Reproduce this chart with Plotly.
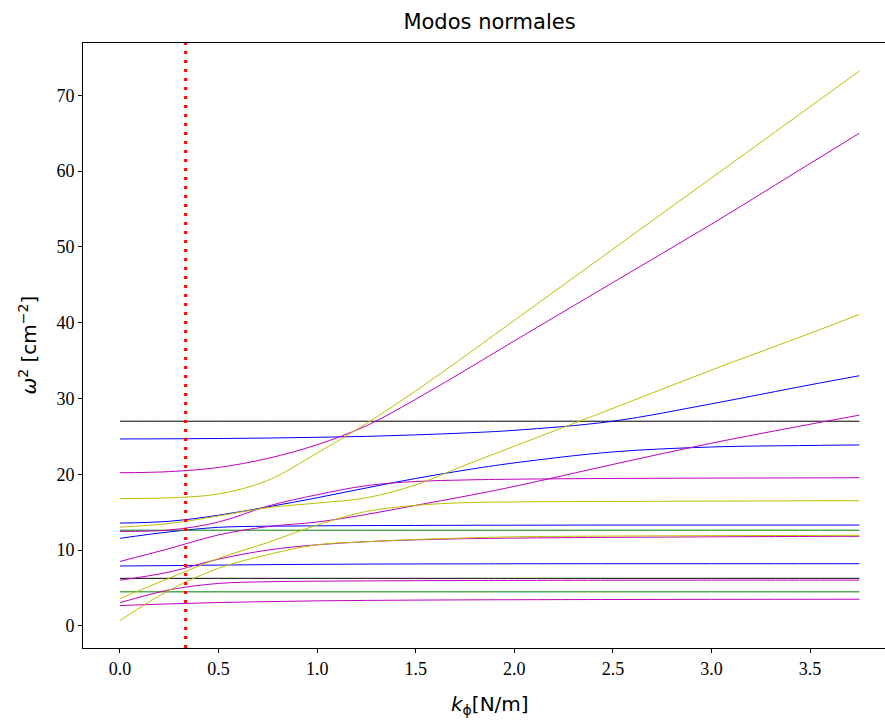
import plotly.graph_objects as go

# x grid (k_phi in N/m)
k_phi = [0.0, 0.25, 0.5, 0.75, 1.0, 1.25, 1.5, 1.75, 2.0, 2.5, 3.0, 3.5, 3.75]

# black modes
k_a = [27.0, 27.0, 27.0, 27.0, 27.0, 27.0, 27.0, 27.0, 27.0, 27.0, 27.0, 27.0, 27.0]
k_b = [6.27, 6.27, 6.27, 6.27, 6.27, 6.27, 6.27, 6.27, 6.27, 6.27, 6.27, 6.27, 6.27]
# green modes
g_a = [12.62, 12.62, 12.62, 12.62, 12.62, 12.62, 12.62, 12.62, 12.62, 12.62, 12.62, 12.62, 12.62]
g_b = [4.49, 4.49, 4.49, 4.49, 4.49, 4.49, 4.49, 4.49, 4.49, 4.49, 4.49, 4.49, 4.49]
# blue modes
b_1 = [24.66, 24.68, 24.72, 24.78, 24.88, 25.0, 25.2, 25.45, 25.8, 27.0, 29.3, 31.8, 33.0]
b_2 = [13.56, 13.8, 14.6, 15.7, 16.9, 18.2, 19.45, 20.55, 21.5, 22.95, 23.6, 23.8, 23.87]
b_3 = [11.55, 12.4, 13.0, 13.15, 13.2, 13.23, 13.25, 13.27, 13.28, 13.3, 13.3, 13.3, 13.3]
b_4 = [7.9, 7.95, 8.02, 8.08, 8.12, 8.15, 8.17, 8.18, 8.19, 8.2, 8.2, 8.2, 8.2]
# magenta modes
m_1 = [2.68, 2.9, 3.08, 3.2, 3.3, 3.36, 3.4, 3.43, 3.45, 3.48, 3.5, 3.51, 3.52]
m_2 = [3.05, 4.75, 5.6, 5.82, 5.9, 5.93, 5.96, 5.98, 6.0, 6.02, 6.03, 6.03, 6.03]
m_3 = [6.03, 7.1, 8.8, 10.0, 10.7, 11.1, 11.35, 11.5, 11.58, 11.68, 11.75, 11.8, 11.82]
m_4 = [8.5, 10.2, 12.0, 13.1, 13.7, 14.7, 15.9, 17.1, 18.4, 21.3, 24.1, 26.6, 27.8]
m_5 = [12.46, 12.65, 13.7, 15.8, 17.3, 18.5, 19.05, 19.25, 19.35, 19.45, 19.5, 19.52, 19.55]
m_6 = [20.2, 20.35, 20.9, 22.1, 23.9, 26.4, 29.9, 33.7, 37.6, 45.3, 53.0, 61.0, 65.0]
# yellow modes
y_1 = [0.7, 4.7, 7.6, 9.4, 10.7, 11.1, 11.4, 11.6, 11.75, 11.85, 11.9, 11.93, 11.95]
y_2 = [3.6, 6.3, 8.9, 11.0, 13.3, 15.1, 15.9, 16.25, 16.35, 16.42, 16.46, 16.5, 16.5]
y_3 = [13.03, 13.5, 14.5, 15.6, 16.2, 16.9, 18.6, 21.2, 23.7, 28.7, 33.75, 38.6, 41.1]
y_4 = [16.8, 16.9, 17.4, 19.2, 22.8, 26.7, 31.0, 35.6, 40.3, 49.7, 59.1, 68.5, 73.2]

k_ref = 0.333  # red dotted reference

x_ticks = [0.0, 0.5, 1.0, 1.5, 2.0, 2.5, 3.0, 3.5]
y_ticks = [0, 10, 20, 30, 40, 50, 60, 70]

series = [
    (k_a, "#000000"), (k_b, "#000000"),
    (b_1, "#0000ff"), (b_2, "#0000ff"), (b_3, "#0000ff"), (b_4, "#0000ff"),
    (g_a, "#008000"), (g_b, "#008000"),
    (m_1, "#bf00bf"), (m_2, "#bf00bf"), (m_3, "#bf00bf"),
    (m_4, "#bf00bf"), (m_5, "#bf00bf"), (m_6, "#bf00bf"),
    (y_1, "#bfbf00"), (y_2, "#bfbf00"), (y_3, "#bfbf00"), (y_4, "#bfbf00"),
]

fig = go.Figure()
for vals, col in series:
    fig.add_trace(go.Scatter(x=k_phi, y=vals, mode="lines",
                             line=dict(color=col, width=1, shape="spline", smoothing=1.0),
                             showlegend=False, hoverinfo="skip"))

fig.add_shape(type="line", xref="x", yref="paper", x0=k_ref, x1=k_ref, y0=0, y1=1,
              line=dict(color="#ff0000", width=3, dash="3px,6px"))

serif = "Liberation Serif"
sans = "DejaVu Sans"
W, H = 885, 722
ax_center_x = 489.5 / W
fig.update_layout(
    width=W, height=H,
    margin=dict(l=83, r=0, t=43, b=74),
    paper_bgcolor="white", plot_bgcolor="white",
    title=dict(text="Modos normales", x=ax_center_x, xref="container", xanchor="center",
               y=1 - 22 / H, yref="container", yanchor="middle",
               font=dict(family=sans, size=21, color="black")),
    xaxis=dict(range=[-0.1875, 3.88], tickvals=x_ticks, ticktext=[f"{t:.1f}" for t in x_ticks],
               showgrid=False, zeroline=False, showline=True, linecolor="black", linewidth=1,
               mirror=True, ticks="outside", ticklen=4, tickcolor="black", tickwidth=1,
               tickfont=dict(family=serif, size=18, color="black")),
    yaxis=dict(range=[-2.92, 76.9], tickvals=y_ticks, ticktext=[str(t) for t in y_ticks],
               showgrid=False, zeroline=False, showline=True, linecolor="black", linewidth=1,
               mirror=False, ticks="outside", ticklen=4, tickcolor="black", tickwidth=1,
               tickfont=dict(family=serif, size=18, color="black")),
    annotations=[
        dict(text="<i>k</i><sub>ϕ</sub>[N/m]", xref="paper", yref="paper",
             x=(489.5 - 83) / (W - 83), y=-(705 - 648) / (648 - 43),
             xanchor="center", yanchor="middle", showarrow=False,
             font=dict(family=sans, size=20, color="black")),
        dict(text="<i>ω</i><sup>2</sup> [cm<sup>−2</sup>]", xref="paper", yref="paper",
             x=-(83 - 27) / (W - 83), y=0.5, textangle=-90,
             xanchor="center", yanchor="middle", showarrow=False,
             font=dict(family=sans, size=20, color="black")),
    ],
)

fig.write_html("out.html")
